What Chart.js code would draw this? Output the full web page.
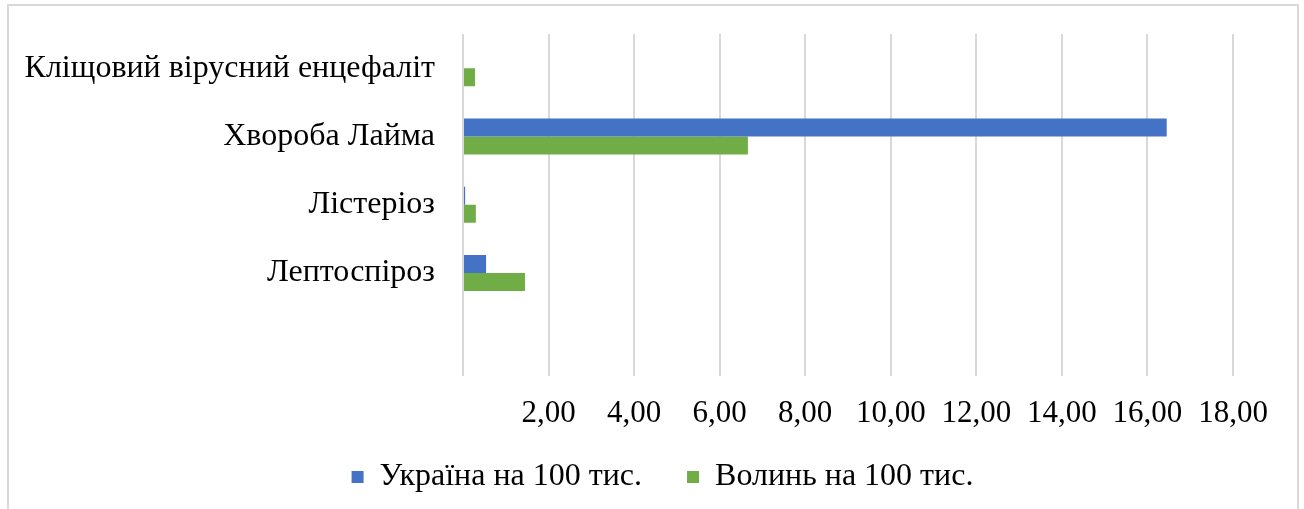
<!DOCTYPE html>
<html>
<head>
<meta charset="utf-8">
<script src="https://cdn.jsdelivr.net/npm/chart.js@4"></script>
<style>
  html, body { margin: 0; padding: 0; background: #fff; overflow: hidden; }
  #frame { position: absolute; left: 7px; top: 4px; width: 1288px; height: 600px; border: 2px solid #d9d9d9; }
  #wrap { position: absolute; left: 0; top: 0; width: 1304px; height: 509px; }
</style>
</head>
<body>
<div id="frame"></div>
<div id="wrap"><canvas id="chart" width="1304" height="509"></canvas></div>
<script>
// categories and the two series (cases per 100 thousand)
const categories = ['Кліщовий вірусний енцефаліт', 'Хвороба Лайма', 'Лістеріоз', 'Лептоспіроз', ''];
const ukraine = [0, 16.45, 0.05, 0.54, null];
const volyn = [0.28, 6.66, 0.30, 1.45, null];
const seriesNames = ['Україна на 100 тис.', 'Волинь на 100 тис.'];
const xMin = 0, xMax = 18, xStep = 2;

const serif = "'Liberation Serif', 'Times New Roman', serif";
const legendPad = 45;

// keeps the legend short in the layout, then moves it where the reference has it
const legendPlace = {
  id: 'legendPlace',
  beforeLayout(chart) {
    const lg = chart.legend;
    if (lg && !lg._patched) {
      const fit = lg.fit.bind(lg);
      lg.fit = function () { fit(); this.height = 50; };
      lg._patched = true;
    }
  },
  afterLayout(chart) {
    const lg = chart.legend;
    lg.top = 416;
    lg.bottom = chart.height;
    lg.height = lg.bottom - lg.top;
    lg.left += 46;
    lg.right += 46;
  }
};

const ctx = document.getElementById('chart').getContext('2d');
new Chart(ctx, {
  type: 'bar',
  data: {
    labels: categories,
    datasets: [
      { label: seriesNames[0], data: ukraine, backgroundColor: '#4472C4', categoryPercentage: 0.527, barPercentage: 1 },
      { label: seriesNames[1], data: volyn, backgroundColor: '#70AD47', categoryPercentage: 0.527, barPercentage: 1 }
    ]
  },
  plugins: [legendPlace],
  options: {
    indexAxis: 'y',
    responsive: false,
    animation: false,
    layout: { padding: { top: 34, right: 71, bottom: 0, left: 0 } },
    plugins: {
      tooltip: { enabled: false },
      legend: {
        position: 'bottom',
        labels: {
          font: { family: serif, size: 32 },
          color: '#000',
          boxWidth: 12,
          boxHeight: 12,
          padding: legendPad
        }
      }
    },
    scales: {
      x: {
        min: xMin,
        max: xMax,
        border: { display: false },
        grid: { color: '#d9d9d9', lineWidth: 2, drawTicks: false },
        ticks: {
          stepSize: xStep,
          padding: 20,
          color: '#000',
          font: { family: serif, size: 31 },
          callback: v => v === 0 ? '' : v.toFixed(2).replace('.', ',')
        },
        afterFit: s => { s.height = 83.5; s.paddingLeft = 0; s.paddingRight = 0; }
      },
      y: {
        border: { display: false },
        grid: { display: false, drawTicks: false },
        ticks: {
          padding: 28,
          color: '#000',
          font: { family: serif, size: 32 }
        },
        afterFit: s => { s.width = 463; s.paddingTop = 0; s.paddingBottom = 0; }
      }
    }
  }
});
</script>
</body>
</html>
